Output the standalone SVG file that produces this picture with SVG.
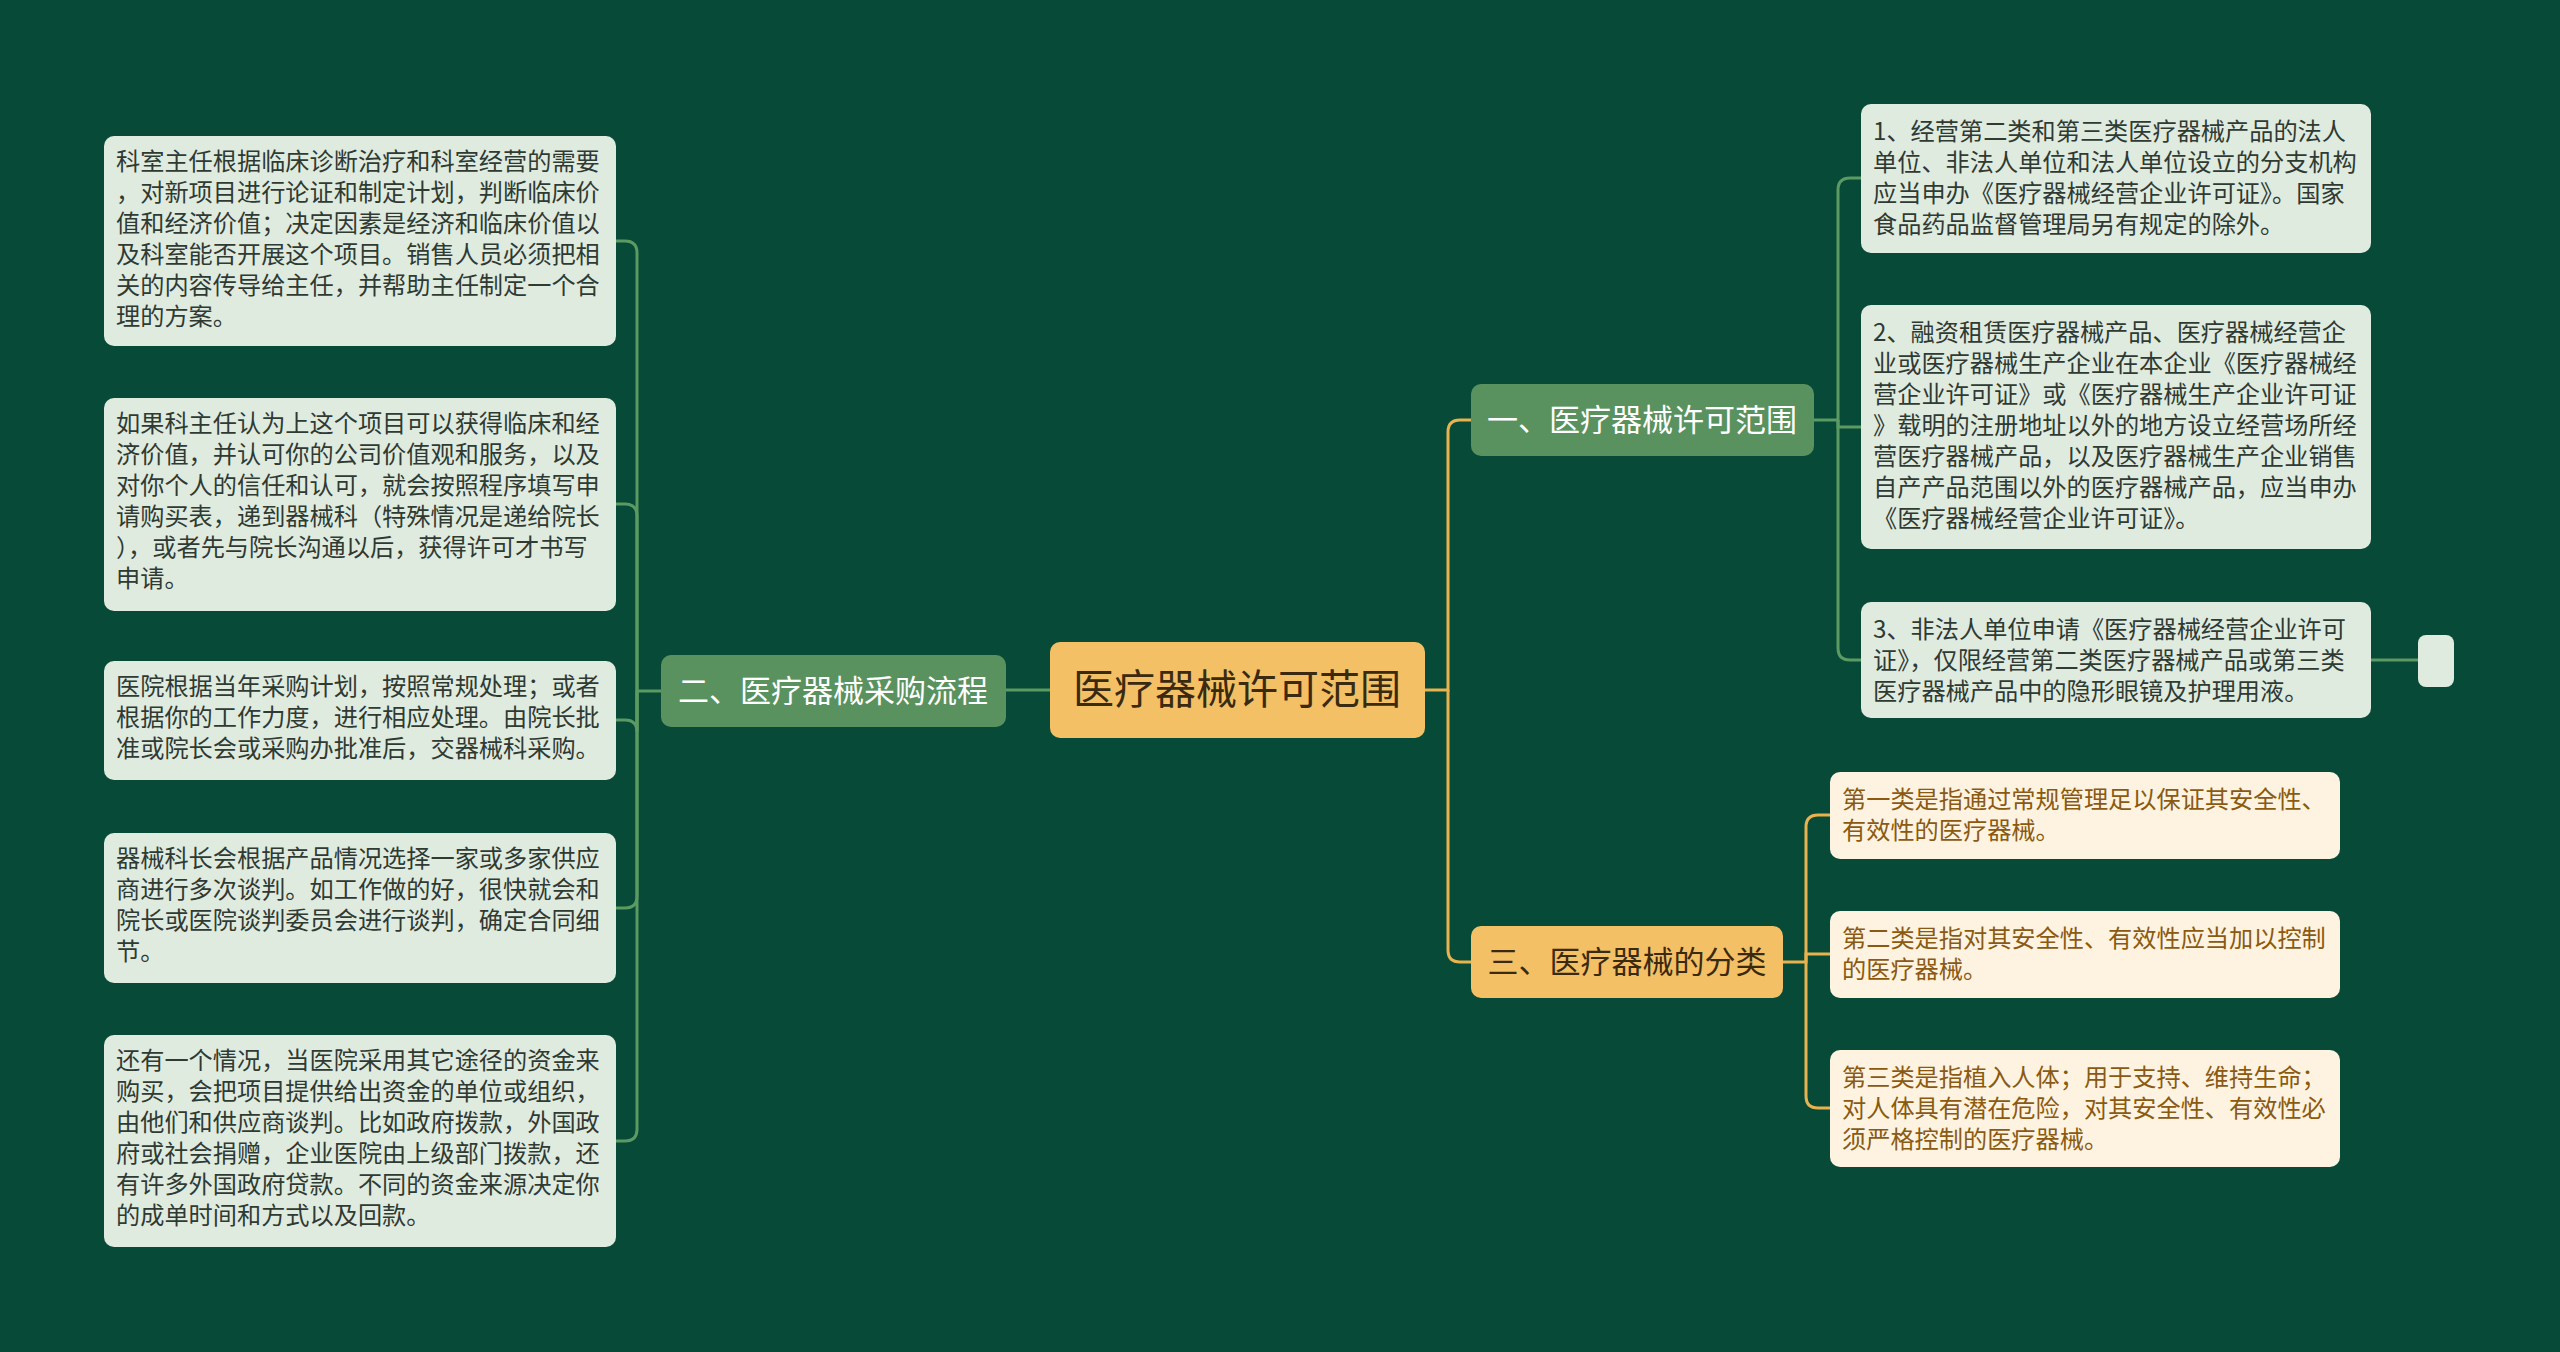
<svg xmlns="http://www.w3.org/2000/svg" width="2560" height="1352" viewBox="0 0 2560 1352">
<style>
text{font-family:"Noto Sans CJK SC","Noto Sans",sans-serif}
.leaf{fill:#e0ebe0}
.lt{font-size:24.2px;fill:#2f3a33}
.ol{fill:#fdf3e0}
.ot{font-size:24.2px;fill:#8a5a12}
.br{fill:#5a925f}
.bt{font-size:31px;fill:#ffffff}
.g{fill:none;stroke:#5b9a62;stroke-width:3}
.o{fill:none;stroke:#e8b24f;stroke-width:3}
</style>
<rect width="2560" height="1352" fill="#074a37"/>
<g id="connectors">
<path class="o" d="M1425 690H1448V432Q1448 420 1460 420H1471"/>
<path class="o" d="M1448 690V950Q1448 962 1460 962H1471"/>
<path class="g" d="M1050 690H1006"/>
<path class="g" d="M661 691H637V253Q637 241 625 241H616"/>
<path class="g" d="M637 691V516Q637 504 625 504H616"/>
<path class="g" d="M637 691V732Q637 720 625 720H616"/>
<path class="g" d="M637 691V896Q637 908 625 908H616"/>
<path class="g" d="M637 691V1129Q637 1141 625 1141H616"/>
<path class="g" d="M1814 420H1838V190Q1838 178 1850 178H1861"/>
<path class="g" d="M1838 420V427H1861"/>
<path class="g" d="M1838 420V648Q1838 660 1850 660H1861"/>
<path class="g" d="M2371 660H2418"/>
<path class="o" d="M1783 962H1806V827Q1806 815 1818 815H1830"/>
<path class="o" d="M1806 962V954H1830"/>
<path class="o" d="M1806 962V1096Q1806 1108 1818 1108H1830"/>
</g>
<g id="root">
<rect x="1050" y="642" width="375" height="96" rx="10" fill="#f4c066"/>
<text x="1237" y="704" font-size="41" fill="#3a2a10" text-anchor="middle">医疗器械许可范围</text>
</g>
<g id="b2">
<rect class="br" x="661" y="655" width="345" height="72" rx="10"/>
<text class="bt" x="833" y="702" text-anchor="middle">二、医疗器械采购流程</text>
</g>
<g id="b1">
<rect class="br" x="1471" y="384" width="343" height="72" rx="10"/>
<text class="bt" x="1642" y="431" text-anchor="middle">一、医疗器械许可范围</text>
</g>
<g id="b3">
<rect x="1471" y="926" width="312" height="72" rx="10" fill="#f4c066"/>
<text class="bt" x="1627" y="973" text-anchor="middle" style="fill:#3a2a10">三、医疗器械的分类</text>
</g>
<g id="l1">
<rect class="leaf" x="104" y="136" width="512" height="210" rx="10"/>
<text class="lt"><tspan x="116" y="170">科室主任根据临床诊断治疗和科室经营的需要</tspan><tspan x="116" y="201">，对新项目进行论证和制定计划，判断临床价</tspan><tspan x="116" y="232">值和经济价值；决定因素是经济和临床价值以</tspan><tspan x="116" y="263">及科室能否开展这个项目。销售人员必须把相</tspan><tspan x="116" y="294">关的内容传导给主任，并帮助主任制定一个合</tspan><tspan x="116" y="325">理的方案。</tspan></text>
</g>
<g id="l2">
<rect class="leaf" x="104" y="398" width="512" height="213" rx="10"/>
<text class="lt"><tspan x="116" y="432">如果科主任认为上这个项目可以获得临床和经</tspan><tspan x="116" y="463">济价值，并认可你的公司价值观和服务，以及</tspan><tspan x="116" y="494">对你个人的信任和认可，就会按照程序填写申</tspan><tspan x="116" y="525">请购买表，递到器械科（特殊情况是递给院长</tspan><tspan x="116" y="556">），或者先与院长沟通以后，获得许可才书写</tspan><tspan x="116" y="587">申请。</tspan></text>
</g>
<g id="l3">
<rect class="leaf" x="104" y="661" width="512" height="119" rx="10"/>
<text class="lt"><tspan x="116" y="695">医院根据当年采购计划，按照常规处理；或者</tspan><tspan x="116" y="726">根据你的工作力度，进行相应处理。由院长批</tspan><tspan x="116" y="757">准或院长会或采购办批准后，交器械科采购。</tspan></text>
</g>
<g id="l4">
<rect class="leaf" x="104" y="833" width="512" height="150" rx="10"/>
<text class="lt"><tspan x="116" y="867">器械科长会根据产品情况选择一家或多家供应</tspan><tspan x="116" y="898">商进行多次谈判。如工作做的好，很快就会和</tspan><tspan x="116" y="929">院长或医院谈判委员会进行谈判，确定合同细</tspan><tspan x="116" y="960">节。</tspan></text>
</g>
<g id="l5">
<rect class="leaf" x="104" y="1035" width="512" height="212" rx="10"/>
<text class="lt"><tspan x="116" y="1069">还有一个情况，当医院采用其它途径的资金来</tspan><tspan x="116" y="1100">购买，会把项目提供给出资金的单位或组织，</tspan><tspan x="116" y="1131">由他们和供应商谈判。比如政府拨款，外国政</tspan><tspan x="116" y="1162">府或社会捐赠，企业医院由上级部门拨款，还</tspan><tspan x="116" y="1193">有许多外国政府贷款。不同的资金来源决定你</tspan><tspan x="116" y="1224">的成单时间和方式以及回款。</tspan></text>
</g>
<g id="r1">
<rect class="leaf" x="1861" y="104" width="510" height="149" rx="10"/>
<text class="lt"><tspan x="1873" y="140">1、经营第二类和第三类医疗器械产品的法人</tspan><tspan x="1873" y="171">单位、非法人单位和法人单位设立的分支机构</tspan><tspan x="1873" y="202">应当申办《医疗器械经营企业许可证》。国家</tspan><tspan x="1873" y="233">食品药品监督管理局另有规定的除外。</tspan></text>
</g>
<g id="r2">
<rect class="leaf" x="1861" y="305" width="510" height="244" rx="10"/>
<text class="lt"><tspan x="1873" y="341">2、融资租赁医疗器械产品、医疗器械经营企</tspan><tspan x="1873" y="372">业或医疗器械生产企业在本企业《医疗器械经</tspan><tspan x="1873" y="403">营企业许可证》或《医疗器械生产企业许可证</tspan><tspan x="1873" y="434">》载明的注册地址以外的地方设立经营场所经</tspan><tspan x="1873" y="465">营医疗器械产品，以及医疗器械生产企业销售</tspan><tspan x="1873" y="496">自产产品范围以外的医疗器械产品，应当申办</tspan><tspan x="1873" y="527">《医疗器械经营企业许可证》。</tspan></text>
</g>
<g id="r3">
<rect class="leaf" x="1861" y="602" width="510" height="116" rx="10"/>
<text class="lt"><tspan x="1873" y="638">3、非法人单位申请《医疗器械经营企业许可</tspan><tspan x="1873" y="669">证》，仅限经营第二类医疗器械产品或第三类</tspan><tspan x="1873" y="700">医疗器械产品中的隐形眼镜及护理用液。</tspan></text>
</g>
<g id="r4">
<rect class="leaf" x="2418" y="635" width="36" height="52" rx="8"/>
</g>
<g id="o1">
<rect class="ol" x="1830" y="772" width="510" height="87" rx="10"/>
<text class="ot"><tspan x="1842" y="808">第一类是指通过常规管理足以保证其安全性、</tspan><tspan x="1842" y="839">有效性的医疗器械。</tspan></text>
</g>
<g id="o2">
<rect class="ol" x="1830" y="911" width="510" height="87" rx="10"/>
<text class="ot"><tspan x="1842" y="947">第二类是指对其安全性、有效性应当加以控制</tspan><tspan x="1842" y="978">的医疗器械。</tspan></text>
</g>
<g id="o3">
<rect class="ol" x="1830" y="1050" width="510" height="117" rx="10"/>
<text class="ot"><tspan x="1842" y="1086">第三类是指植入人体；用于支持、维持生命；</tspan><tspan x="1842" y="1117">对人体具有潜在危险，对其安全性、有效性必</tspan><tspan x="1842" y="1148">须严格控制的医疗器械。</tspan></text>
</g>
</svg>
